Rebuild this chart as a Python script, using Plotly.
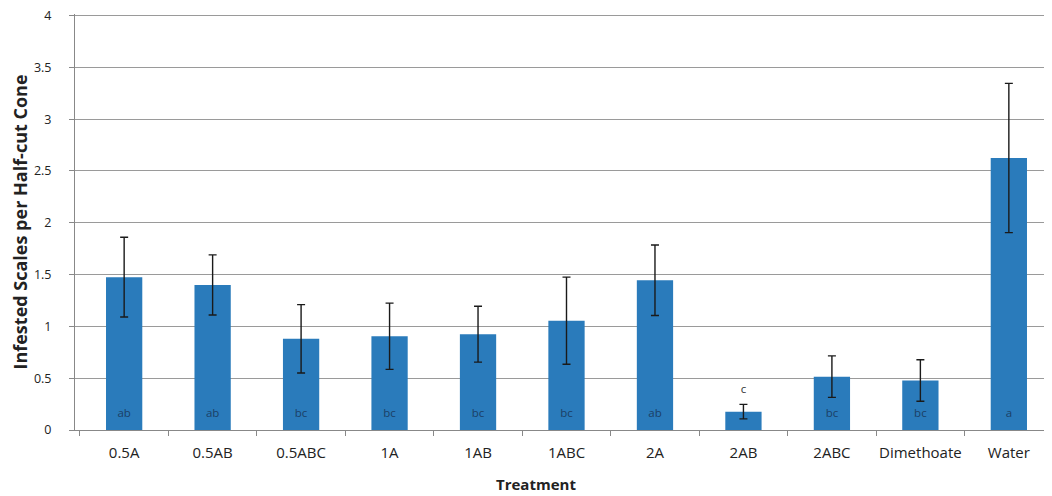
import plotly.graph_objects as go

treatments = ["0.5A", "0.5AB", "0.5ABC", "1A", "1AB", "1ABC", "2A", "2AB", "2ABC", "Dimethoate", "Water"]
means = [1.475, 1.40, 0.88, 0.905, 0.925, 1.055, 1.445, 0.177, 0.515, 0.478, 2.625]
se = [0.385, 0.29, 0.33, 0.32, 0.27, 0.42, 0.34, 0.07, 0.20, 0.20, 0.72]
letters = ["ab", "ab", "bc", "bc", "bc", "bc", "ab", "c", "bc", "bc", "a"]
y_ticks = [0, 0.5, 1, 1.5, 2, 2.5, 3, 3.5, 4]

BAR = "#2a7bbb"
FONT = "Open Sans"

fig = go.Figure()
fig.add_trace(go.Bar(
    x=treatments, y=means, width=0.41,
    marker=dict(color=BAR, line=dict(width=0)),
    error_y=dict(type="data", array=se, visible=True, color="#1a1a1a", thickness=1.4, width=4),
    showlegend=False, hoverinfo="x+y",
))

# significance letters: inside the bar near base, or above the error bar for short bars
lab_y = []
lab_col = []
for m, s in zip(means, se):
    if m < 0.3:
        lab_y.append(m + s + 0.14)
        lab_col.append("#333333")
    else:
        lab_y.append(0.155)
        lab_col.append("#1b3f66")
fig.add_trace(go.Scatter(
    x=treatments, y=lab_y, mode="text", text=letters,
    textfont=dict(family=FONT, size=11.5, color=lab_col),
    showlegend=False, hoverinfo="skip",
))

# the page body adds an 8px offset; margins are set so the plot area lands where the reference has it
fig.update_layout(
    width=1052, height=496,
    margin=dict(l=67, r=2, t=6, b=74),
    paper_bgcolor="white", plot_bgcolor="white",
    font=dict(family=FONT, size=14, color="#222222"),
    bargap=0.59,
    annotations=[dict(
        text="<b>Treatment</b>", xref="paper", yref="paper", x=0.469, y=0,
        xanchor="center", yanchor="middle", yshift=-54, showarrow=False,
        font=dict(family=FONT, size=15, color="#222222"),
    )],
)
fig.update_xaxes(
    type="category", tickson="boundaries", ticks="outside", ticklen=5, tickcolor="#888888",
    showline=True, linecolor="#888888", linewidth=1, showgrid=False, tickangle=0,
    tickfont=dict(family=FONT, size=15, color="#222222"), ticklabelstandoff=9,
    automargin=False,
)
fig.update_yaxes(
    range=[0, 4.015], tickvals=y_ticks, ticktext=[f"{v:g}" for v in y_ticks],
    ticks="outside", ticklen=5, tickcolor="#888888", ticklabeloverflow="allow",
    showline=True, linecolor="#888888", linewidth=1,
    showgrid=True, gridcolor="#9a9a9a", gridwidth=1, zeroline=False,
    tickfont=dict(family=FONT, size=12.5, color="#222222"), ticklabelstandoff=15,
    title=dict(text="<b>Infested Scales per Half-cut Cone</b>", font=dict(family=FONT, size=18, color="#222222"), standoff=10),
    automargin=False,
)
fig.write_html("out.html")
